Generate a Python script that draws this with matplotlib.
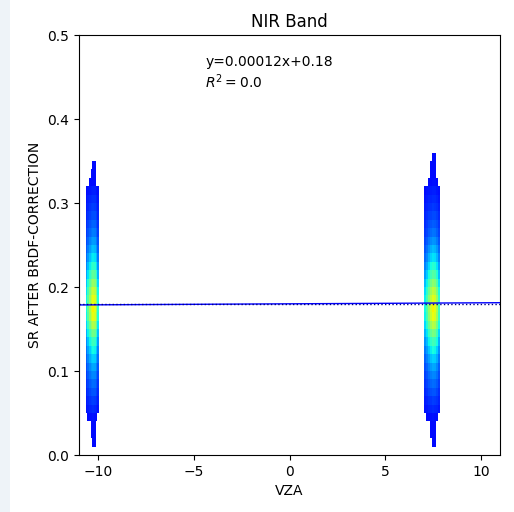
import numpy as np
import matplotlib
matplotlib.use('Agg')
import matplotlib.pyplot as plt
from matplotlib.colors import Normalize
from matplotlib.patches import Rectangle
from matplotlib.ticker import MultipleLocator

# Regression result shown on the chart
slope = 0.00012
intercept = 0.18
r2 = 0.0

# Density profiles (y bins of 0.01 from 0.00 to 0.37)
left_y_density = [0, 0.0055, 0.006, 0.0065, 0.01, 0.03, 0.05, 0.08, 0.11, 0.15,
                  0.2, 0.27, 0.35, 0.45, 0.6, 0.78, 0.95, 1.0, 0.95, 0.85,
                  0.7, 0.55, 0.42, 0.32, 0.24, 0.18, 0.13, 0.1, 0.07, 0.05,
                  0.035, 0.02, 0.007, 0.006, 0.0055, 0, 0]
right_y_density = [0, 0.0055, 0.006, 0.0065, 0.01, 0.03, 0.05, 0.08, 0.11, 0.15,
                   0.2, 0.27, 0.36, 0.47, 0.62, 0.8, 0.96, 1.0, 0.93, 0.82,
                   0.67, 0.52, 0.4, 0.3, 0.23, 0.17, 0.12, 0.09, 0.065, 0.045,
                   0.032, 0.02, 0.008, 0.0065, 0.006, 0.0055, 0]

# x profiles across each cluster
left_x_range = (-10.65, -9.95)
left_x_density = [0.35, 0.55, 0.75, 0.9, 1.0, 0.95, 0.7, 0.4]
right_x_range = (7.05, 7.85)
right_x_density = [0.35, 0.5, 0.7, 0.88, 1.0, 0.95, 0.75, 0.45]

fig = plt.figure(figsize=(5.14, 5.12), dpi=100)
fig.patches.append(Rectangle((0, 0), 10 / 514, 1, transform=fig.transFigure,
                             facecolor='#eef3f8', edgecolor='none', zorder=-1))
ax = fig.add_axes([0.1537, 0.1113, 0.8191, 0.8203])

norm = Normalize(vmin=-0.226, vmax=1.66)
y_edges = np.linspace(0, 0.37, len(left_y_density) + 1)

for xr, xd, yd in [(left_x_range, left_x_density, left_y_density),
                   (right_x_range, right_x_density, right_y_density)]:
    x_edges = np.linspace(xr[0], xr[1], len(xd) + 1)
    dens = np.outer(yd, xd)
    dens = np.ma.masked_less(dens, 0.005)
    ax.pcolormesh(x_edges, y_edges, dens ** 0.7, cmap='jet', norm=norm, shading='flat')

# Fit line
xs = np.array([-11, 11])
ax.plot(xs, slope * xs + intercept, color='blue', lw=1)
ax.plot(xs, [0.1795, 0.1795], color='navy', lw=1, ls=':')

ax.text(-4.4, 0.463, f'y={slope}x+{intercept}', fontsize=10)
ax.text(-4.4, 0.437, f'$R^2 = {r2}$', fontsize=10)

ax.set_xlim(-11, 11)
ax.set_ylim(0, 0.5)
ax.xaxis.set_major_locator(MultipleLocator(5))
ax.set_title('NIR Band')
ax.set_xlabel('VZA')
ax.set_ylabel('SR AFTER BRDF-CORRECTION')

fig.savefig('out.png', dpi=100)
